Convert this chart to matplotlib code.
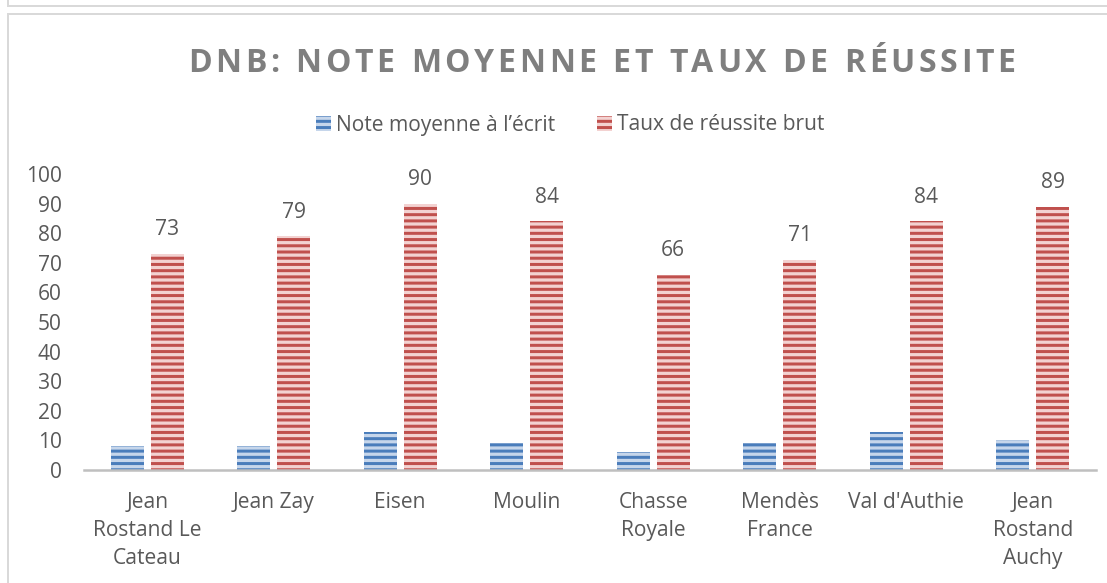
import matplotlib
matplotlib.use("Agg")
import matplotlib.pyplot as plt
from matplotlib.lines import Line2D
import numpy as np

# data
colleges = ["Jean\nRostand Le\nCateau", "Jean Zay", "Eisen", "Moulin",
            "Chasse\nRoyale", "Mendès\nFrance", "Val d'Authie",
            "Jean\nRostand\nAuchy"]
note_moyenne = [8, 8, 13, 9, 6, 9, 13, 10]
taux_reussite = [73, 79, 90, 84, 66, 71, 84, 89]
series_names = ["Note moyenne à l\u2019écrit", "Taux de réussite brut"]
title = "DNB: NOTE MOYENNE ET TAUX DE RÉUSSITE"

W, H, DPI = 1107, 583, 112
px = 72.0 / DPI  # pixels -> points

plt.rcParams['font.family'] = ['Open Sans', 'DejaVu Sans']
plt.rcParams['hatch.linewidth'] = 3.0 * px

TXT = '#595959'
BLUE_D, BLUE_L = '#4a7dbb', '#c6d6eb'
RED_D, RED_L = '#c0504d', '#f3d2d1'

fig = plt.figure(figsize=(W / DPI, H / DPI), dpi=DPI)

def fx(x):
    return x / W

def fy(y):
    return 1 - y / H

# chart frame (light grey borders like the office export)
frame = '#d9d9d9'
fig.add_artist(Line2D([fx(8), 1], [fy(6), fy(6)], color=frame, lw=2 * px))
fig.add_artist(Line2D([fx(8), fx(8)], [1, fy(6)], color=frame, lw=2 * px))
fig.add_artist(Line2D([fx(8), 1], [fy(14), fy(14)], color=frame, lw=2 * px))
fig.add_artist(Line2D([fx(8), fx(8)], [fy(14), 0], color=frame, lw=2 * px))

ax = fig.add_axes([fx(84), fy(470), fx(1096) - fx(84), fy(174) - fy(470)])

x = np.arange(len(colleges))
bw = 0.26
off = 0.157
b1 = ax.bar(x - off, note_moyenne, bw, color=BLUE_L, edgecolor=BLUE_D,
            hatch='---', linewidth=0, label=series_names[0])
b2 = ax.bar(x + off, taux_reussite, bw, color=RED_L, edgecolor=RED_D,
            hatch='---', linewidth=0, label=series_names[1])

for xi, v in zip(x + off, taux_reussite):
    ax.annotate(str(v), (xi, v), xytext=(0, 24 * px), textcoords='offset points',
                ha='center', va='center', fontsize=21 * px, color=TXT)

ax.set_xlim(-0.5, len(colleges) - 0.5)
ax.set_ylim(0, 100)
ax.set_yticks(range(0, 101, 10))
ax.set_xticks(x)
ax.set_xticklabels(colleges, linespacing=1.45)
ax.tick_params(axis='both', length=0, labelsize=21 * px, labelcolor=TXT)
ax.tick_params(axis='x', pad=22 * px)
ax.tick_params(axis='y', pad=22 * px)
for s in ['top', 'right', 'left']:
    ax.spines[s].set_visible(False)
ax.spines['bottom'].set_color('#bfbfbf')
ax.spines['bottom'].set_linewidth(2.5 * px)

leg = fig.legend(handles=[b1, b2], loc='center', bbox_to_anchor=(fx(570), fy(125)),
                 ncol=2, frameon=False, fontsize=21 * px, handlelength=0.7,
                 handleheight=0.7, handletextpad=0.25, columnspacing=2.0,
                 labelcolor=TXT)

# title with wide letter spacing, placed one character at a time
renderer = fig.canvas.get_renderer()
chars = []
for c in title:
    t = fig.text(0, fy(72), c, fontsize=32 * px, fontweight='bold',
                 color='#7f7f7f', va='baseline', ha='left')
    chars.append(t)
widths = []
for c, t in zip(title, chars):
    if c == ' ':
        widths.append(9.0)
    else:
        widths.append(t.get_window_extent(renderer).width)
target = 1015 - 188
gap = (target - sum(widths)) / (len(title) - 1)
pos = 188.0
for t, w in zip(chars, widths):
    t.set_x(fx(pos))
    pos += w + gap

fig.savefig('out.png', dpi=DPI)
